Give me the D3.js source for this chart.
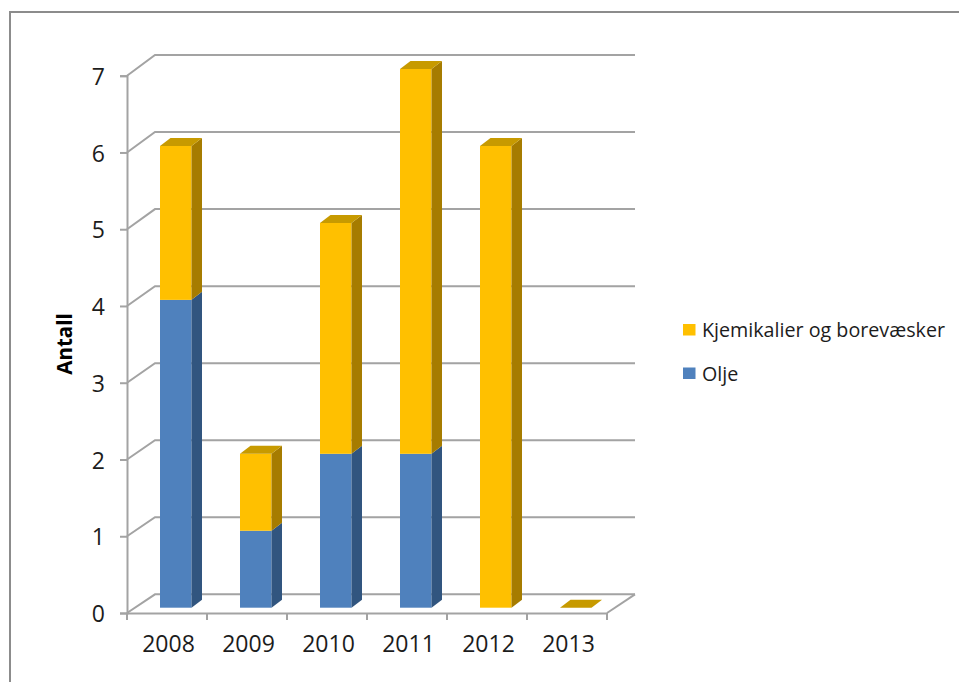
<!DOCTYPE html>
<html>
<head>
<meta charset="utf-8">
<script src="https://cdn.jsdelivr.net/npm/d3@7"></script>
<style>
  html, body { margin: 0; padding: 0; background: #fff; }
  svg { display: block; }
  text { font-family: "Open Sans", sans-serif; fill: #1c1c1c; }
</style>
</head>
<body>
<svg id="chart" width="959" height="682"></svg>
<script>
const years = ["2008", "2009", "2010", "2011", "2012", "2013"];
const olje = [4, 1, 2, 2, 0, 0];
const kjemikalier = [2, 1, 3, 5, 6, 0];
const yTicks = [0, 1, 2, 3, 4, 5, 6, 7];
const seriesNames = ["Olje", "Kjemikalier og borevæsker"];
const legendOrder = ["Kjemikalier og borevæsker", "Olje"];

const palette = {
  "Olje": { front: "#4f81bd", side: "#31557f", top: "#3f6797" },
  "Kjemikalier og borevæsker": { front: "#ffc000", side: "#a67c00", top: "#c79a00" }
};
const gridColor = "#a3a3a3";

const svg = d3.select("#chart");

// Frame around the chart area, open towards the right and bottom edges
svg.append("path")
  .attr("d", "M10,682V12H959")
  .attr("fill", "none").attr("stroke", "#8c8c8c").attr("stroke-width", 2);

const x = d3.scaleBand().domain(years).range([127, 607]);
// Each depth plane of the 3D box has a slightly different vertical scale
const y = d3.scaleLinear().domain([0, 7]).range([613, 75.7]);
const yBack = d3.scaleLinear().domain([0, 7]).range([594.3, 55]);
const yBar = d3.scaleLinear().domain([0, 7]).range([607.7, 69]);

const wallDx = 28;                   // horizontal depth of the side wall and floor
const barInset = 33, barWidth = 31.5; // bar position inside its category band
const barDx = 10.5, barDy = -8;      // depth of each bar

// Back-wall gridlines with their diagonals along the left wall
const grid = svg.append("g").attr("fill", "none")
  .attr("stroke", gridColor).attr("stroke-width", 2);
grid.selectAll("path").data(yTicks).join("path")
  .attr("d", t => `M${x.range()[0]},${y(t)}L${x.range()[0] + wallDx},${yBack(t)}H${x.range()[1] + wallDx}`);
grid.append("path")
  .attr("d", `M${x.range()[1]},${y(0)}L${x.range()[1] + wallDx},${yBack(0)}`);

// Axes
const yAxis = svg.append("g").attr("transform", `translate(${x.range()[0]},0)`)
  .call(d3.axisLeft(y).tickValues(yTicks).tickSize(7).tickPadding(15).tickFormat(d3.format("d")));
yAxis.selectAll(".tick text").attr("dy", "0.38em");
const xAxis = svg.append("g").attr("transform", `translate(0,${y(0)})`)
  .call(d3.axisBottom(x).tickSize(0).tickPadding(23));
xAxis.selectAll(".tick text").attr("dx", 1.5);
xAxis.selectAll(".boundary").data(d3.range(years.length + 1)).join("line")
  .attr("class", "boundary")
  .attr("x1", i => x.range()[0] + i * x.step())
  .attr("x2", i => x.range()[0] + i * x.step())
  .attr("y1", 0).attr("y2", 7);
[yAxis, xAxis].forEach(a => {
  a.attr("font-family", null).attr("font-size", null);
  a.selectAll("path, line").attr("stroke", gridColor).attr("stroke-width", 2);
  a.selectAll("text").attr("font-size", 23).attr("fill", "#1c1c1c");
});

// Stacked bars, drawn from the bottom series up
const table = years.map((year, i) => ({ year, "Olje": olje[i], "Kjemikalier og borevæsker": kjemikalier[i] }));
const stacked = d3.stack().keys(seriesNames)(table);
const bars = svg.append("g");

stacked.forEach(layer => {
  const colors = palette[layer.key];
  const isTopLayer = layer.index === stacked.length - 1;
  layer.forEach(d => {
    const left = x(d.data.year) + barInset;
    const right = left + barWidth;
    const y0 = yBar(d[0]);
    const y1 = yBar(d[1]);
    if (d[1] > d[0]) {
      bars.append("rect")
        .attr("x", left).attr("y", y1)
        .attr("width", barWidth).attr("height", y0 - y1)
        .attr("fill", colors.front);
      bars.append("polygon")
        .attr("points", [[right, y0], [right + barDx, y0 + barDy], [right + barDx, y1 + barDy], [right, y1]].join(" "))
        .attr("fill", colors.side);
    }
    if (isTopLayer) {
      bars.append("polygon")
        .attr("points", [[left, y1], [left + barDx, y1 + barDy], [right + barDx, y1 + barDy], [right, y1]].join(" "))
        .attr("fill", colors.top);
    }
  });
});

// Value axis title
svg.append("text")
  .attr("transform", "translate(72,344) rotate(-90)")
  .attr("text-anchor", "middle")
  .attr("font-size", 20.5).attr("font-weight", 700)
  .style("fill", "#000")
  .text("Antall");

// Legend
const legend = svg.append("g").selectAll("g").data(legendOrder).join("g")
  .attr("transform", (d, i) => `translate(683,${324 + i * 43.5})`);
legend.append("rect")
  .attr("width", 12.5).attr("height", 11.5)
  .attr("fill", d => palette[d].front);
legend.append("text")
  .attr("x", 19).attr("y", 6).attr("dy", "0.36em")
  .attr("font-size", 19.7)
  .text(d => d);
</script>
</body>
</html>
